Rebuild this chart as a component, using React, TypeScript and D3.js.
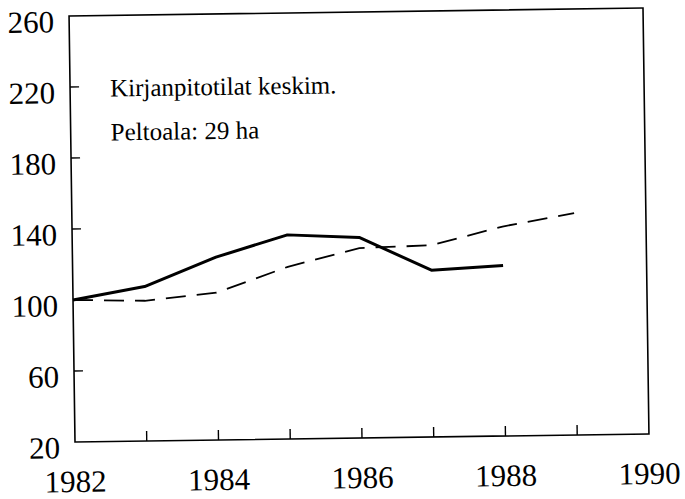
import * as d3 from 'd3';

// chart data
const years: number[] = [1982, 1983, 1984, 1985, 1986, 1987, 1988, 1989];
const solidValues: number[] = [100, 107, 123, 135, 133, 114, 116];
const dashedValues: number[] = [100, 99, 103, 117, 127, 128, 138, 145];
const yTicks: number[] = [20, 60, 100, 140, 180, 220, 260];
const xLabels: number[] = [1982, 1984, 1986, 1988, 1990];
const xTickYears: number[] = [1983, 1984, 1985, 1986, 1987, 1988, 1989];
const noteLines: string[] = ['Kirjanpitotilat keskim.', 'Peltoala: 29 ha'];

const width = 685;
const height = 499;
const margin = { top: 12, right: 39, bottom: 61, left: 72 };
const innerW = width - margin.left - margin.right;
const innerH = height - margin.top - margin.bottom;
const fontStack = "'Liberation Serif', 'Times New Roman', Tinos, 'Nimbus Roman', serif";
const serif = { fontFamily: fontStack };

export default function App() {
  const x = d3.scaleLinear().domain([1982, 1990]).range([0, innerW]);
  const y = d3.scaleLinear().domain([20, 260]).range([innerH, 0]);

  const line = d3.line<number>()
    .x((_, i) => x(years[i]))
    .y(d => y(d));

  return (
    <svg width={width} height={height} fontFamily={fontStack}
      style={{ position: 'absolute', left: 0, top: 0, background: '#fff', fontFamily: fontStack }}>
      {/* the scanned page is slightly tilted */}
      <g transform="rotate(-0.8, 359, 225)">
        <g transform={`translate(${margin.left},${margin.top})`}>
          <rect x={0} y={0} width={innerW} height={innerH}
            fill="none" stroke="#000" strokeWidth={1.6} />

          {yTicks.slice(1, -1).map(d => (
            <line key={`yt${d}`} x1={0} x2={9} y1={y(d)} y2={y(d)} stroke="#000" strokeWidth={1.4} />
          ))}
          {yTicks.map(d => (
            <text key={`yl${d}`} x={-15} y={y(d) + 16} textAnchor="end" fontSize={31}
              fontFamily={fontStack} style={serif}>{String(d)}</text>
          ))}

          {xTickYears.map(d => (
            <line key={`xt${d}`} x1={x(d)} x2={x(d)} y1={innerH} y2={innerH - 10} stroke="#000" strokeWidth={1.4} />
          ))}
          {xLabels.map(d => (
            <text key={`xl${d}`} x={x(d)} y={innerH + 50} textAnchor="middle" fontSize={31}
              fontFamily={fontStack} style={serif}>{String(d)}</text>
          ))}

          <path d={line(dashedValues) ?? ''} fill="none" stroke="#000" strokeWidth={1.8} strokeDasharray="20 11" />
          <path d={line(solidValues) ?? ''} fill="none" stroke="#000" strokeWidth={3} strokeLinejoin="round" />

          {noteLines.map((t, i) => (
            <text key={t} x={40} y={81 + i * 44} fontSize={25}
              fontFamily={fontStack} style={serif}>{t}</text>
          ))}
        </g>
      </g>
    </svg>
  );
}
